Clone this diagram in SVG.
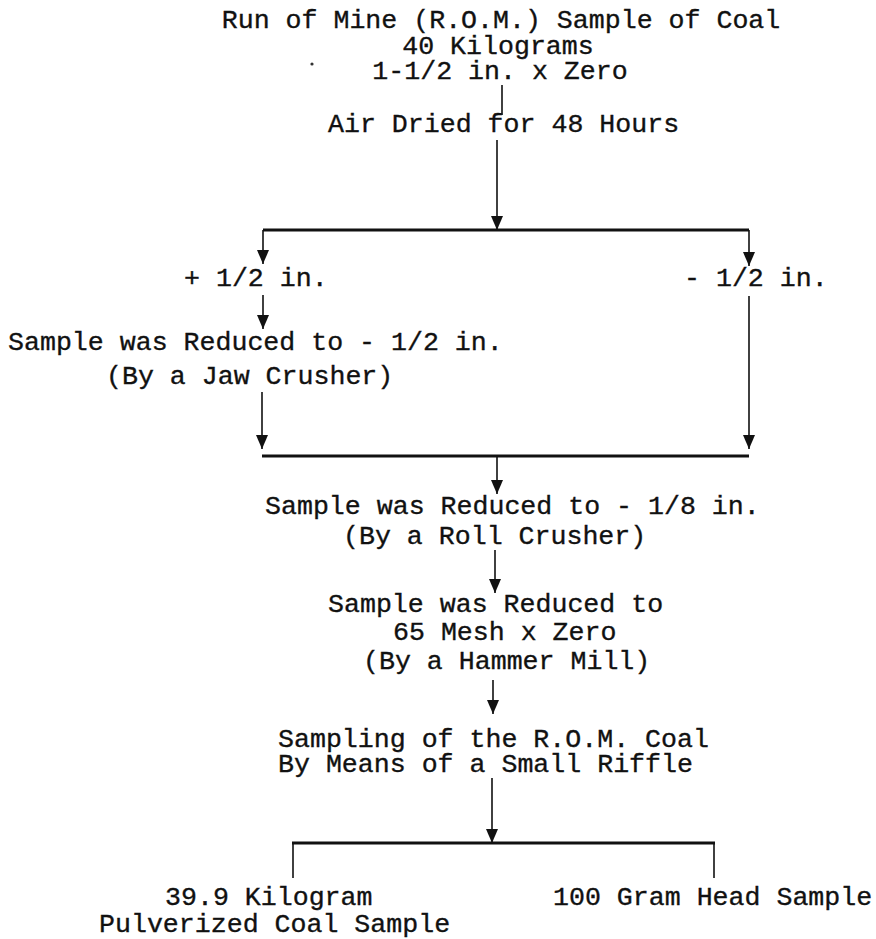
<svg xmlns="http://www.w3.org/2000/svg" width="876" height="939" viewBox="0 0 876 939">
<defs>
<style>
text{font-family:"Liberation Mono","DejaVu Sans Mono",monospace;font-size:26.6px;fill:#111;stroke:#111;stroke-width:0.35}
.v{stroke:#111;stroke-width:1.6;fill:none}
.h{stroke:#111;stroke-width:3;fill:none}
</style>
<marker id="ah" markerUnits="userSpaceOnUse" markerWidth="14" markerHeight="12" refX="14" refY="6" orient="auto" viewBox="0 0 14 12">
<path d="M0,0 L14,6 L0,12 Z" fill="#111"/>
</marker>
</defs>
<rect width="876" height="939" fill="#fff"/>
<g id="n1">
<text x="501" y="28" text-anchor="middle">Run of Mine (R.O.M.) Sample of Coal</text>
<text x="498" y="54" text-anchor="middle">40 Kilograms</text>
<text x="500" y="79" text-anchor="middle">1-1/2 in. x Zero</text>
<circle cx="312" cy="64" r="1.6" fill="#333"/>
</g>
<g id="n2"><text x="328" y="132">Air Dried for 48 Hours</text></g>
<g id="n3"><text x="184" y="286">+ 1/2 in.</text></g>
<g id="n4"><text x="684" y="286">- 1/2 in.</text></g>
<g id="n5">
<text x="8" y="350">Sample was Reduced to - 1/2 in.</text>
<text x="106" y="384">(By a Jaw Crusher)</text>
</g>
<g id="n6">
<text x="265" y="514">Sample was Reduced to - 1/8 in.</text>
<text x="343" y="544">(By a Roll Crusher)</text>
</g>
<g id="n7">
<text x="328" y="612">Sample was Reduced to</text>
<text x="393" y="640">65 Mesh x Zero</text>
<text x="363" y="669">(By a Hammer Mill)</text>
</g>
<g id="n8">
<text x="278" y="747">Sampling of the R.O.M. Coal</text>
<text x="278" y="772">By Means of a Small Riffle</text>
</g>
<g id="n9">
<text x="165" y="905">39.9 Kilogram</text>
<text x="99" y="932">Pulverized Coal Sample</text>
</g>
<g id="n10"><text x="553" y="905">100 Gram Head Sample</text></g>
<g id="connectors">
<line class="v" x1="502" y1="85" x2="502" y2="115"/>
<line class="v" x1="497" y1="140" x2="497" y2="230" marker-end="url(#ah)"/>
<line class="h" x1="263" y1="230" x2="749" y2="230"/>
<line class="v" x1="263" y1="230" x2="263" y2="264" marker-end="url(#ah)"/>
<line class="v" x1="749" y1="230" x2="749" y2="266" marker-end="url(#ah)"/>
<line class="v" x1="263" y1="295" x2="263" y2="329" marker-end="url(#ah)"/>
<line class="v" x1="262" y1="392" x2="262" y2="449" marker-end="url(#ah)"/>
<line class="v" x1="749" y1="296" x2="749" y2="449" marker-end="url(#ah)"/>
<line class="h" x1="262" y1="456" x2="749" y2="456"/>
<line class="v" x1="497" y1="456" x2="497" y2="494" marker-end="url(#ah)"/>
<line class="v" x1="495" y1="550" x2="495" y2="593" marker-end="url(#ah)"/>
<line class="v" x1="493" y1="680" x2="493" y2="714" marker-end="url(#ah)"/>
<line class="v" x1="492" y1="778" x2="492" y2="843" marker-end="url(#ah)"/>
<line class="h" x1="292" y1="843" x2="715" y2="843"/>
<line class="v" x1="293" y1="843" x2="293" y2="878"/>
<line class="v" x1="714" y1="843" x2="714" y2="878"/>
</g>
</svg>
